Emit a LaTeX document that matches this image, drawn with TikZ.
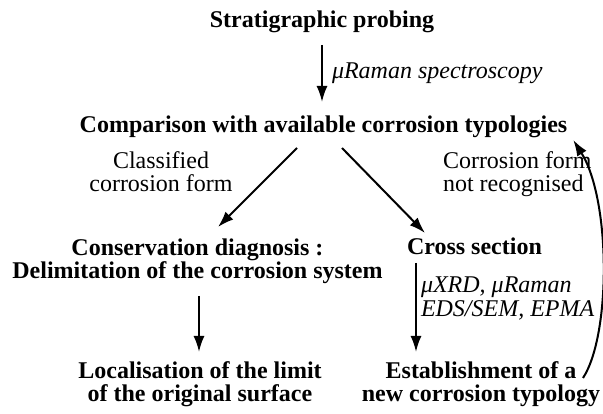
\documentclass[tikz,border=0pt]{standalone}
\usepackage{fontspec}
\setmainfont{Liberation Serif}
\usetikzlibrary{arrows.meta,calc}
\tikzset{
  lbl/.style={inner sep=0pt, outer sep=0pt, font=\fontsize{24}{23.5}\selectfont},
  hd/.style={inner sep=0pt, outer sep=0pt, font=\fontsize{24}{23.5}\selectfont\bfseries},
  it/.style={inner sep=0pt, outer sep=0pt, font=\fontsize{24}{23.5}\selectfont\itshape},
  arr/.style={-{Latex[length=16pt,width=11pt]}, line width=2pt},
}
\begin{document}
\begin{tikzpicture}[x=1pt,y=-1pt]
\useasboundingbox (0,0) rectangle (603,414);
% nodes
\node[hd, anchor=base] (title) at (322,28) {Stratigraphic probing};
\node[hd, anchor=base] (comp) at (323.5,133) {Comparison with available corrosion typologies};
\node[it, anchor=base west] (raman) at (332,79) {μRaman spectroscopy};
\node[lbl, anchor=north, align=center] (cls) at (161,151.6) {Classified\\corrosion form};
\node[lbl, anchor=north west, align=left] (nrec) at (443,151.6) {Corrosion form\\not recognised};
\node[hd, anchor=north, align=center] (cons) at (197.5,238.6) {Conservation diagnosis :\\Delimitation of the corrosion system};
\node[hd, anchor=base west] (cross) at (407,255) {Cross section};
\node[it, anchor=north west, align=left] (xrd) at (421,277) {μXRD, μRaman\\EDS/SEM, EPMA};
\node[hd, anchor=north, align=center] (loc) at (200,361.6) {Localisation of the limit\\of the original surface};
\node[hd, anchor=north, align=center] (est) at (481,361.6) {Establishment of a\\new corrosion typology};
% connectors
\draw[arr] ($(title.base)+(0,17)$) -- ($(comp.base)+(-1.5,-31)$);
\draw[arr] ($(comp.base)+(-26.5,15)$) -- ($(cons.north)+(20.5,-11.6)$);
\draw[arr] ($(comp.base)+(18.5,15)$) -- ($(cross.base west)+(18,-22)$);
\draw[arr] ($(cons.south)+(1.5,12)$) -- ($(loc.north)+(-1,-9.6)$);
\draw[arr] ($(cross.base west)+(9,8)$) -- ($(est.north)+(-65,-9.6)$);
\draw[arr] ($(est.north)+(102,16.4)$) .. controls (611,335) and (611,200) .. ($(comp.base east)+(6,7)$);
\end{tikzpicture}
\end{document}
